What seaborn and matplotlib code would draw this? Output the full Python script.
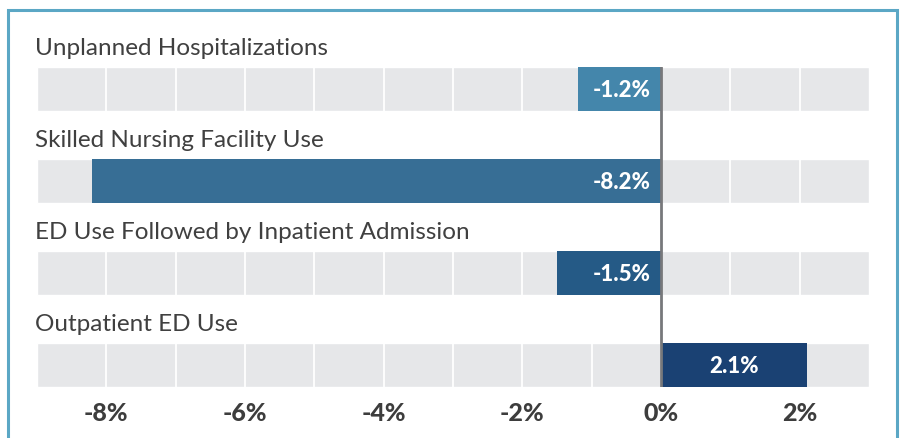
import numpy as np
import pandas as pd
import matplotlib.pyplot as plt
from matplotlib.patches import Rectangle
import seaborn as sns

# chart data
categories = ["Unplanned Hospitalizations", "Skilled Nursing Facility Use",
              "ED Use Followed by Inpatient Admission", "Outpatient ED Use"]
changes = [-1.2, -8.2, -1.5, 2.1]
bar_colors = ["#4486ab", "#376e95", "#255a86", "#1a4173"]
x_ticks = [-8, -6, -4, -2, 0, 2]

sns.set_style("white")
plt.rcParams['font.family'] = ['Lato', 'DejaVu Sans']

df = pd.DataFrame({"category": categories, "change": changes})

W, H = 903, 438
fig = plt.figure(figsize=(W / 100, H / 100), dpi=100)
# axes spans the gray bands: x 37..869 px, y 67..387 px
ax = fig.add_axes([37 / W, 1 - 387 / H, (869 - 37) / W, (387 - 67) / H])

band_h = 44 / 92
xmin, xmax = -9, 3
rows = np.arange(len(categories))

# gray background bands
ax.barh(rows, xmax - xmin, left=xmin, height=band_h, color="#e6e7e9", zorder=0)
# white gridlines inside the bands
for r in rows:
    ax.vlines(np.arange(xmin + 1, xmax), r - band_h / 2, r + band_h / 2,
              color="white", lw=1.3, zorder=1)

sns.barplot(data=df, x="change", y="category", hue="category", palette=bar_colors,
            legend=False, orient="h", width=band_h, saturation=1, linewidth=0,
            ax=ax, zorder=2)

# zero line
ax.axvline(0, color="#77787b", lw=2, zorder=4)

# value labels and category titles
for r, (cat, v) in enumerate(zip(categories, changes)):
    if v < 0:
        ax.text(-0.15, r + 0.02, f"{v:.1f}%", ha="right", va="center", color="white",
                fontsize=16, fontweight="black", zorder=5)
    else:
        ax.text(v / 2, r + 0.02, f"{v:.1f}%", ha="center", va="center", color="white",
                fontsize=16, fontweight="black", zorder=5)
    ax.text(xmin - 0.03, r - 0.44, cat, ha="left", va="center", color="#404040",
            fontsize=17.5, clip_on=False)

ax.set_xlim(xmin, xmax)
ax.set_ylim(len(categories) - 1 + 22 / 92, -22 / 92)
ax.set_xticks(x_ticks)
ax.set_xticklabels([f"{t}%" for t in x_ticks], fontsize=18, fontweight="black", color="#3d3d3d")
ax.tick_params(axis="x", length=0, pad=11)
ax.set_yticks([])
ax.set_xlabel("")
ax.set_ylabel("")
sns.despine(ax=ax, left=True, bottom=True)

# light blue frame around the chart
fig.patches.append(Rectangle((8 / W, -0.05), (897 - 8) / W, 1.05 - 10.5 / H,
                             transform=fig.transFigure, fill=False,
                             edgecolor="#5ba7c5", lw=2.2))

fig.savefig("out.png", dpi=100)
